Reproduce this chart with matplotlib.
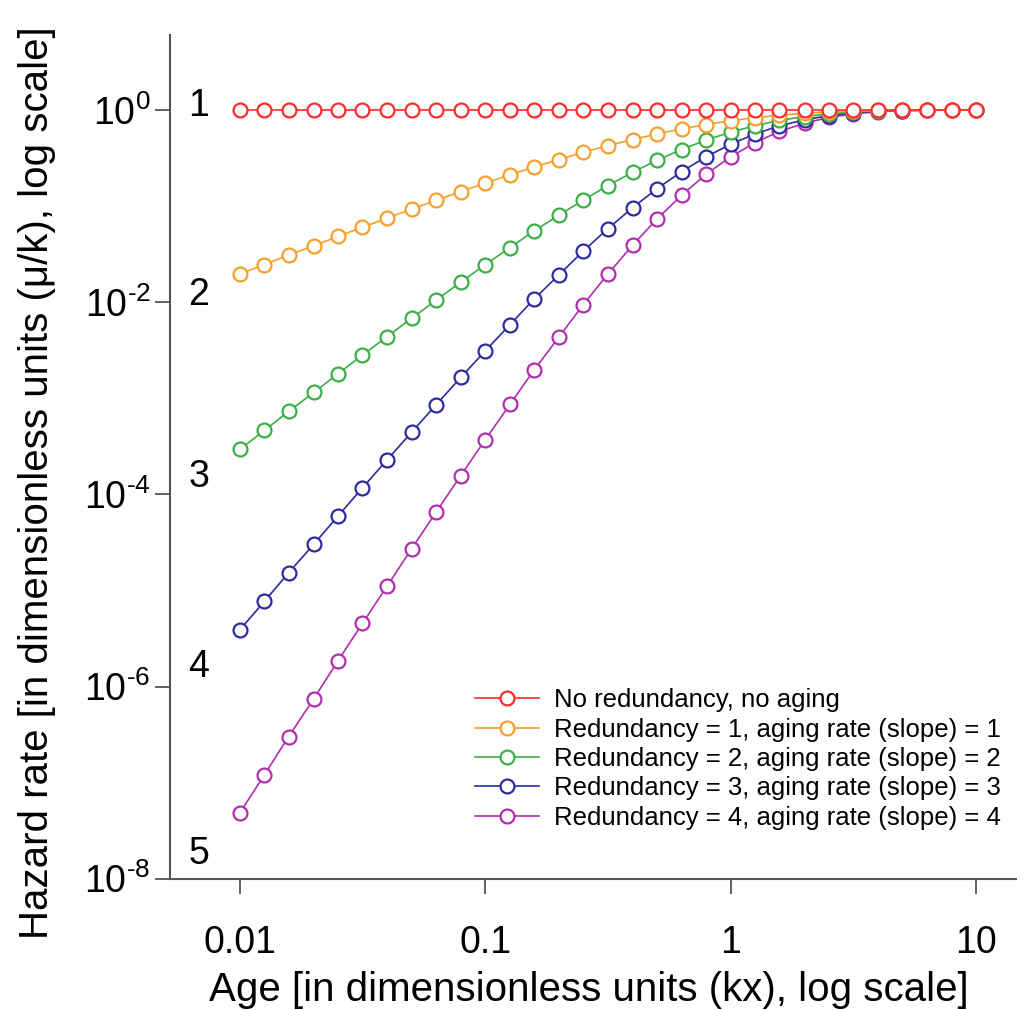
import numpy as np
import matplotlib
matplotlib.use("Agg")
import matplotlib.pyplot as plt
from matplotlib.ticker import FixedLocator, FuncFormatter, NullLocator

plt.rcParams["font.family"] = ["Liberation Sans", "DejaVu Sans"]
plt.rcParams["mathtext.fontset"] = "custom"
plt.rcParams["mathtext.rm"] = "Liberation Sans"

# age (kx), 10 points per decade
age = [0.01, 0.0126, 0.0158, 0.02, 0.0251, 0.0316, 0.0398, 0.0501, 0.0631, 0.0794,
       0.1, 0.126, 0.158, 0.2, 0.251, 0.316, 0.398, 0.501, 0.631, 0.794,
       1.0, 1.26, 1.58, 2.0, 2.51, 3.16, 3.98, 5.01, 6.31, 7.94, 10.0]

# hazard rate (mu/k)
no_redundancy = [1.0] * 31
redundancy_1 = [0.0197, 0.0247, 0.031, 0.0387, 0.0484, 0.0604, 0.0751, 0.0932, 0.115, 0.142,
                0.174, 0.212, 0.256, 0.306, 0.364, 0.427, 0.494, 0.565, 0.638, 0.708,
                0.775, 0.835, 0.886, 0.927, 0.958, 0.978, 0.991, 0.997, 0.999, 1.0, 1.0]
redundancy_2 = [2.94e-4, 4.64e-4, 7.3e-4, 1.15e-3, 1.8e-3, 2.82e-3, 4.39e-3, 6.82e-3, 0.0105, 0.0162,
                0.0246, 0.0371, 0.0552, 0.0809, 0.116, 0.164, 0.225, 0.301, 0.389, 0.488,
                0.59, 0.69, 0.781, 0.858, 0.917, 0.957, 0.981, 0.993, 0.998, 1.0, 1.0]
redundancy_3 = [3.9e-6, 7.73e-6, 1.53e-5, 3.02e-5, 5.95e-5, 1.17e-4, 2.29e-4, 4.44e-4, 8.59e-4, 1.65e-3,
                3.12e-3, 5.84e-3, 0.0108, 0.0194, 0.0342, 0.0584, 0.0963, 0.152, 0.229, 0.327,
                0.442, 0.566, 0.686, 0.793, 0.877, 0.936, 0.972, 0.99, 0.997, 0.999, 1.0]
redundancy_4 = [4.85e-8, 1.21e-7, 3.01e-7, 7.46e-7, 1.85e-6, 4.55e-6, 1.11e-5, 2.72e-5, 6.56e-5, 1.57e-4,
                3.71e-4, 8.63e-4, 1.97e-3, 4.38e-3, 9.47e-3, 0.0197, 0.0392, 0.0738, 0.13, 0.215,
                0.327, 0.46, 0.6, 0.731, 0.838, 0.915, 0.963, 0.987, 0.996, 0.999, 1.0]

labels = ["No redundancy, no aging",
          "Redundancy = 1, aging rate (slope) = 1",
          "Redundancy = 2, aging rate (slope) = 2",
          "Redundancy = 3, aging rate (slope) = 3",
          "Redundancy = 4, aging rate (slope) = 4"]
series = [no_redundancy, redundancy_1, redundancy_2, redundancy_3, redundancy_4]
colors = ["#ff2b2b", "#f5a02a", "#3cae46", "#2f2a9e", "#b02eae"]

# curve numbers on the left
curve_nums = ["1", "2", "3", "4", "5"]
curve_num_y = [1.1, 1.2e-2, 1.5e-4, 1.6e-6, 1.8e-8]


def pow10_label(v, pos):
    e = int(round(np.log10(v)))
    if e < 0:
        # plain hyphen in the exponent, like the original figure
        return r"$\mathregular{10^{\text{-}%d}}$" % (-e)
    return r"$\mathregular{10^{%d}}$" % e


fig = plt.figure(figsize=(10.25, 10.1), dpi=100)
ax = fig.add_axes([0.166, 0.13, 0.825, 0.835])

for i, (vals, lab, col) in enumerate(zip(series, labels, colors)):
    ax.plot(age, vals, color=col, lw=1.2, marker="o", ms=10, mfc="white",
            mec=col, mew=1.6, label=lab, zorder=10 - i)

ax.set_xscale("log")
ax.set_yscale("log")
ax.set_xlim(0.0052, 14.5)
ax.set_ylim(1e-8, 6.0)

ax.xaxis.set_major_locator(FixedLocator([0.01, 0.1, 1, 10]))
ax.xaxis.set_minor_locator(NullLocator())
ax.xaxis.set_major_formatter(FuncFormatter(lambda v, p: {0.01: "0.01", 0.1: "0.1", 1: "1", 10: "10"}.get(round(v, 2), "")))
ax.yaxis.set_major_locator(FixedLocator([1e-8, 1e-6, 1e-4, 1e-2, 1]))
ax.yaxis.set_minor_locator(NullLocator())
ax.yaxis.set_major_formatter(FuncFormatter(pow10_label))

for s in ["top", "right"]:
    ax.spines[s].set_visible(False)
for s in ["left", "bottom"]:
    ax.spines[s].set_color("#555555")
    ax.spines[s].set_linewidth(1.5)
ax.tick_params(which="major", direction="out", length=11, width=1.3, color="#555555",
               labelsize=27)
ax.tick_params(axis="x", pad=22)
ax.tick_params(axis="y", pad=3)

for num, y in zip(curve_nums, curve_num_y):
    ax.text(0.0068, y, num, fontsize=27, ha="center", va="center")

ax.set_xlabel("Age [in dimensionless units (kx), log scale]", fontsize=29)
ax.xaxis.set_label_coords(0.495, -0.11)
ax.set_ylabel("Hazard rate [in dimensionless units (\u03bc/k), log scale]", fontsize=29)
ax.yaxis.set_label_coords(-0.135, 0.47)

ax.legend(loc="lower right", bbox_to_anchor=(0.982, 0.058), frameon=False, fontsize=18.5,
          handlelength=2.5, handletextpad=0.58, labelspacing=0.21, borderaxespad=0,
          borderpad=0)

fig.savefig("out.png", dpi=100)
